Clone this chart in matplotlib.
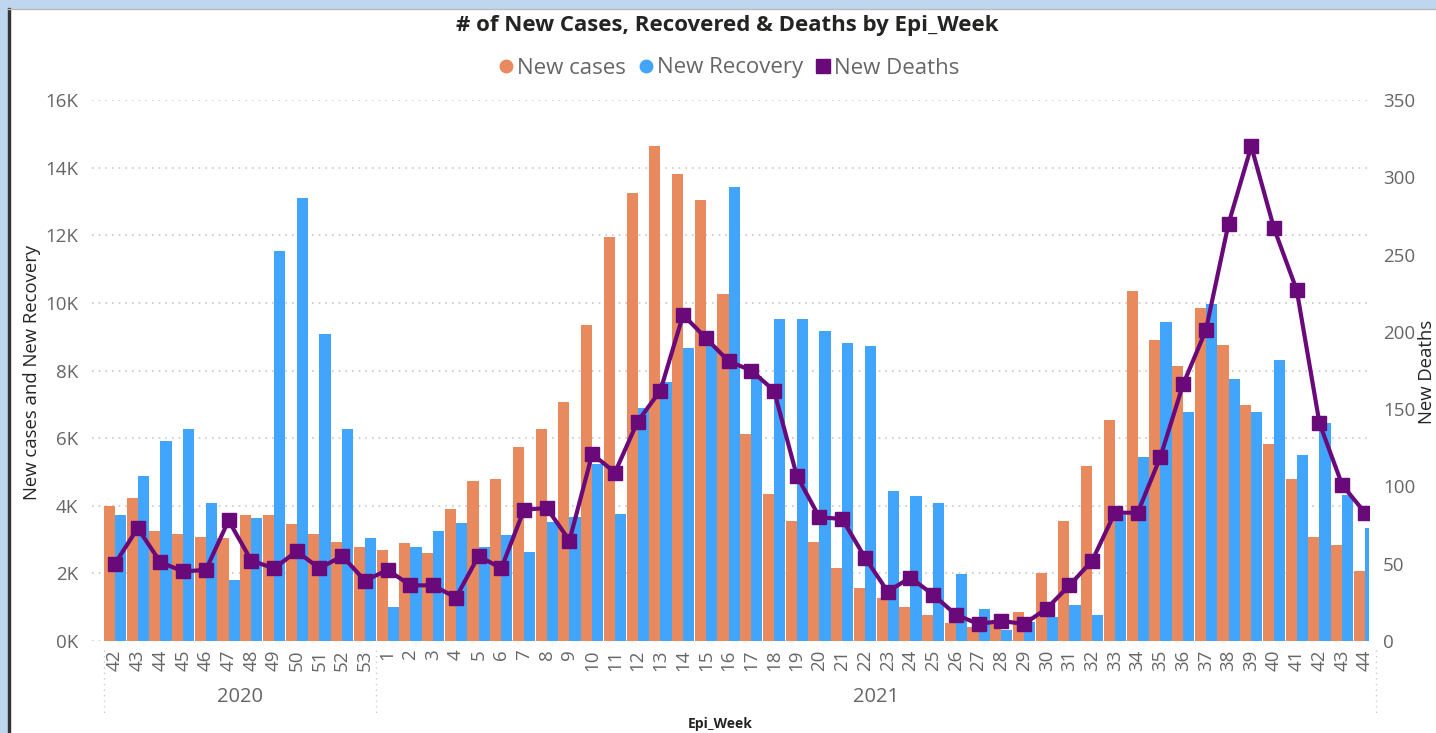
import matplotlib
matplotlib.use("Agg")
import matplotlib.pyplot as plt
from matplotlib.lines import Line2D
from matplotlib.patches import Rectangle
from matplotlib.ticker import FuncFormatter

plt.rcParams["font.family"] = ["Open Sans", "DejaVu Sans"]

# data
weeks_2020 = ["42", "43", "44", "45", "46", "47", "48", "49", "50", "51", "52", "53"]
weeks_2021 = [str(w) for w in range(1, 45)]

cases_2020 = [3.99, 4.23, 3.26, 3.15, 3.07, 3.05, 3.73, 3.73, 3.46, 3.16, 2.93, 2.78]
cases_2021 = [2.69, 2.89, 2.60, 3.90, 4.72, 4.78, 5.73, 6.26, 7.08, 9.34,
              11.95, 13.24, 14.63, 13.80, 13.05, 10.27, 6.12, 4.34, 3.55, 2.93,
              2.16, 1.57, 1.28, 1.01, 0.77, 0.52, 0.42, 0.50, 0.86, 2.01,
              3.55, 5.19, 6.55, 10.34, 8.90, 8.13, 9.86, 8.76, 6.97, 5.82,
              4.78, 3.07, 2.83, 2.06]

recov_2020 = [3.73, 4.89, 5.91, 6.28, 4.08, 1.81, 3.65, 11.53, 13.09, 9.08, 6.28, 3.06]
recov_2021 = [1.01, 2.78, 3.26, 3.48, 2.78, 3.13, 2.64, 3.51, 3.66, 5.24,
              3.76, 6.89, 7.66, 8.66, 8.71, 13.43, 7.85, 9.52, 9.52, 9.17,
              8.81, 8.71, 4.43, 4.28, 4.08, 1.98, 0.96, 0.33, 0.55, 0.71,
              1.07, 0.77, 3.73, 5.44, 9.42, 6.78, 9.97, 7.74, 6.78, 8.32,
              5.49, 6.45, 4.32, 3.35]

deaths_2020 = [50, 73, 51, 45, 46, 78, 52, 47, 58, 47, 55, 39]
deaths_2021 = [46, 36, 36, 28, 55, 47, 85, 86, 65, 121,
               109, 142, 162, 211, 196, 181, 175, 162, 107, 80,
               79, 54, 32, 41, 30, 17, 11, 13, 11, 21,
               36, 52, 83, 83, 119, 166, 201, 270, 320, 267,
               227, 141, 101, 83]

labels = weeks_2020 + weeks_2021
cases = [v * 1000 for v in cases_2020 + cases_2021]
recov = [v * 1000 for v in recov_2020 + recov_2021]
deaths = deaths_2020 + deaths_2021
x = list(range(len(labels)))

c_orange = "#E8895E"
c_blue = "#42A5FC"
c_purple = "#6A0A7A"
c_gray = "#666666"

W, H = 1436, 733
fig = plt.figure(figsize=(W / 100, H / 100), dpi=100)
fig.patch.set_facecolor("white")

# window frame
fig.add_artist(Rectangle((0, 1 - 8 / H), 1, 8 / H, transform=fig.transFigure,
                         color="#BFD7EE", zorder=0))
fig.add_artist(Rectangle((0, 0), 8 / W, 1, transform=fig.transFigure,
                         color="#BFD7EE", zorder=0))
fig.add_artist(Rectangle((8 / W, 0), 2 / W, 1 - 8 / H, transform=fig.transFigure,
                         color="#333333", zorder=1))
fig.add_artist(Line2D([8 / W, 1], [1 - 9 / H, 1 - 9 / H], transform=fig.transFigure,
                      color="#BBBBBB", lw=1))

ax = fig.add_axes([92 / W, 1 - 641 / H, (1369 - 92) / W, (641 - 100) / H])
ax2 = ax.twinx()

bw = 0.49
ax.bar([i - bw / 2 for i in x], cases, width=bw, color=c_orange, zorder=2)
ax.bar([i + bw / 2 for i in x], recov, width=bw, color=c_blue, zorder=2)
ax2.plot(x, deaths, color=c_purple, lw=3, marker="s", ms=10, zorder=3)

ax.set_xlim(-1.01, 55.18)
ax.set_ylim(0, 16000)
ax2.set_ylim(0, 350)
ax.set_yticks(range(0, 16001, 2000))
ax.yaxis.set_major_formatter(FuncFormatter(lambda v, p: f"{v / 1000:.0f}K"))
ax2.set_yticks(range(0, 351, 50))

ax.grid(axis="y", color="#C8C8C8", linestyle=(0, (1, 3)), lw=1.2, zorder=0)
ax.set_axisbelow(True)

for a in (ax, ax2):
    for s in a.spines.values():
        s.set_visible(False)
ax.tick_params(axis="y", length=0, labelsize=13.5, labelcolor=c_gray, pad=10)
ax2.tick_params(axis="y", length=0, labelsize=13.5, labelcolor=c_gray, pad=10)
ax.set_xticks(x)
ax.set_xticklabels(labels, rotation=90, fontsize=13.5, color=c_gray)
ax.tick_params(axis="x", length=0, pad=6)

# year groups below the week labels
tr = ax.get_xaxis_transform()
y_top = (H - 650) / H
y_bot = (H - 715) / H
ax_bottom = 1 - 641 / H
ax_h = (641 - 100) / H
for xs in (-0.5, 11.5, 55.5):
    ax.plot([xs, xs], [(y_top - ax_bottom) / ax_h, (y_bot - ax_bottom) / ax_h],
            transform=tr, clip_on=False, color="#CCCCCC", lw=1, ls=(0, (1, 3)))
y_year = ((H - 697) / H - ax_bottom) / ax_h
ax.text(5.5, y_year, "2020", transform=tr, ha="center", va="center",
        fontsize=14.5, color=c_gray)
ax.text(33.5, y_year, "2021", transform=tr, ha="center", va="center",
        fontsize=14.5, color=c_gray)

fig.text(727 / W, 1 - 26 / H, "# of New Cases, Recovered & Deaths by Epi_Week",
         ha="center", va="center", fontsize=16, fontweight="bold", color="#252423")
fig.text(32 / W, 1 - 372 / H, "New cases and New Recovery", rotation=90,
         ha="center", va="center", fontsize=13.3, color="#252423")
fig.text(1427 / W, 1 - 372 / H, "New Deaths", rotation=90,
         ha="center", va="center", fontsize=13.3, color="#252423")
fig.text(720 / W, 1 - 724 / H, "Epi_Week", ha="center", va="center",
         fontsize=10, fontweight="bold", color="#252423")

handles = [
    Line2D([], [], ls="", marker="o", ms=9, color=c_orange),
    Line2D([], [], ls="", marker="o", ms=9, color=c_blue),
    Line2D([], [], ls="", marker="s", ms=10, color=c_purple),
]
leg = fig.legend(handles, ["New cases", "New Recovery", "New Deaths"],
                 loc="center", bbox_to_anchor=(727 / W, 1 - 68 / H), ncol=3,
                 frameon=False, fontsize=16, handletextpad=0.0,
                 columnspacing=0.4, handlelength=1.0)
for t in leg.get_texts():
    t.set_color(c_gray)

fig.savefig("out.png", dpi=100)
